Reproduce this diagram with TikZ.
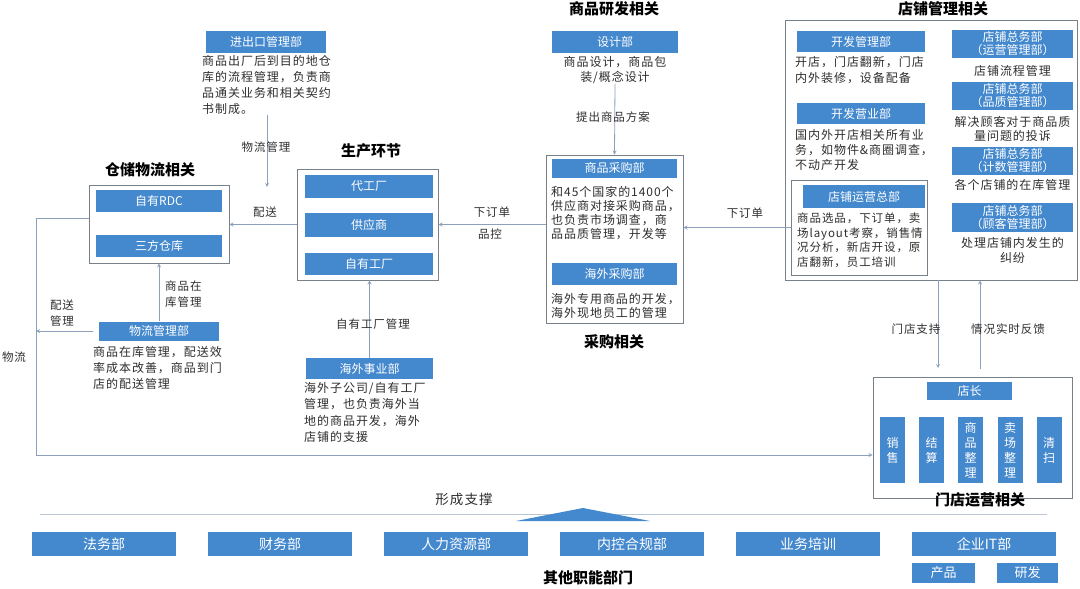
\documentclass[tikz,border=0pt]{standalone}
\usepackage{fontspec}
\setmainfont{Noto Sans CJK SC}
\newfontfamily\notefont[LetterSpace=8]{Noto Sans CJK SC}
\usetikzlibrary{positioning}
\definecolor{boxblue}{RGB}{68,136,206}
\definecolor{linegray}{RGB}{140,160,185}
\definecolor{framegray}{RGB}{120,128,138}
\definecolor{txtgray}{RGB}{45,45,45}
\begin{document}
\begin{tikzpicture}[x=1pt,y=-1pt,
  blk/.style={fill=boxblue,text=white,font=\fontsize{12}{15}\selectfont,inner sep=0pt,align=center},
  grp/.style={draw=framegray,line width=0.9pt,inner sep=0pt},
  note/.style={text=txtgray,font=\notefont\fontsize{12}{15}\selectfont,inner sep=0pt,align=left},
  ttl/.style={font=\fontsize{15}{18}\selectfont\bfseries},
  lbl/.style={text=txtgray,font=\notefont\fontsize{11.5}{16}\selectfont,inner sep=1pt,align=left},
  lnk/.style={draw=linegray,line width=0.8pt,-stealth}]
\useasboundingbox (0,0) rectangle (1080,589);

% group frames
\node[grp,minimum width=140,minimum height=78] (cang) at (159,224) {};
\node[grp,minimum width=141,minimum height=111] (sheng) at (367.5,224.5) {};
\node[grp,minimum width=137,minimum height=168] (cai) at (614.5,239) {};
\node[grp,minimum width=292,minimum height=260] (dian) at (931,150) {};
\node[grp,minimum width=136,minimum height=95] (yunying) at (859,227.5) {};
\node[grp,minimum width=199,minimum height=121] (men) at (972.5,437.5) {};

% titles
\node[ttl] (tCang) at (150,170) {仓储物流相关};
\node[ttl] (tSheng) at (371,151) {生产环节};
\node[ttl] (tYan) at (614,9) {商品研发相关};
\node[ttl] (tCai) at (614,342) {采购相关};
\node[ttl] (tDian) at (943,9) {店铺管理相关};
\node[ttl] (tMen) at (980,500) {门店运营相关};
\node[ttl] (tQi) at (588,578) {其他职能部门};

% warehouse / logistics
\node[blk,minimum width=120,minimum height=22] (jck) at (266,42) {进出口管理部};
\node[note,anchor=north west,font=\notefont\fontsize{12}{16}\selectfont] (jckT) at (202,55)
  {商品出厂后到目的地仓\\库的流程管理，负责商\\品通关业务和相关契约\\书制成。};
\node[blk,minimum width=126,minimum height=22] (rdc) at (159,201) {自有RDC};
\node[blk,minimum width=126,minimum height=22] (sanfang) at (159,246) {三方仓库};
\node[blk,minimum width=120,minimum height=19] (wlgl) at (159,331) {物流管理部};
\node[note,anchor=north west,font=\notefont\fontsize{12}{16}\selectfont] (wlglT) at (93,346)
  {商品在库管理，配送效\\率成本改善，商品到门\\店的配送管理};

% production
\node[blk,minimum width=128,minimum height=23] (daigong) at (369,186) {代工厂};
\node[blk,minimum width=128,minimum height=24] (gys) at (369,225) {供应商};
\node[blk,minimum width=128,minimum height=22] (zygc) at (369,264) {自有工厂};
\node[blk,minimum width=127,minimum height=21] (hwsy) at (369.5,368.5) {海外事业部};
\node[note,anchor=north west,font=\notefont\fontsize{12}{16.5}\selectfont] (hwsyT) at (304,382)
  {海外子公司/自有工厂\\管理，也负责海外当\\地的商品开发，海外\\店铺的支援};

% design and purchasing
\node[blk,minimum width=126,minimum height=22] (sheji) at (615,42) {设计部};
\node[note,anchor=north,align=center] (shejiT) at (615,56) {商品设计，商品包\\装/概念设计};
\node[blk,minimum width=125,minimum height=19] (spcg) at (614.5,168) {商品采购部};
\node[note,anchor=north west,font=\notefont\fontsize{12}{14}\selectfont] (spcgT) at (551,186)
  {和45个国家的1400个\\供应商对接采购商品，\\也负责市场调查，商\\品品质管理，开发等};
\node[blk,minimum width=125,minimum height=22] (hwcg) at (614.5,274) {海外采购部};
\node[note,anchor=north west,font=\notefont\fontsize{12}{14}\selectfont] (hwcgT) at (551,293)
  {海外专用商品的开发，\\海外现地员工的管理};

% store management
\node[blk,minimum width=128,minimum height=21] (kfgl) at (861,41.5) {开发管理部};
\node[note,anchor=north west,font=\notefont\fontsize{12}{16}\selectfont] (kfglT) at (795,56)
  {开店，门店翻新，门店\\内外装修，设备配备};
\node[blk,minimum width=128,minimum height=21] (kfyy) at (861,113.5) {开发营业部};
\node[note,anchor=north west] (kfyyT) at (795,129)
  {国内外开店相关所有业\\务，如物件\&商圈调查，\\不动产开发};
\node[blk,minimum width=122,minimum height=23] (yyzb) at (864,196.5) {店铺运营总部};
\node[note,anchor=north west,font=\notefont\fontsize{11.5}{14.5}\selectfont] (yyzbT) at (797,213)
  {商品选品，下订单，卖\\场layout考察，销售情\\况分析，新店开设，原\\店翻新，员工培训};
\node[blk,minimum width=121,minimum height=28,font=\fontsize{12}{13}\selectfont] (zw1) at (1012.5,44) {店铺总务部\\（运营管理部）};
\node[note,align=center] (zw1T) at (1012.5,71) {店铺流程管理};
\node[blk,minimum width=121,minimum height=28,font=\fontsize{12}{13}\selectfont] (zw2) at (1012.5,96) {店铺总务部\\（品质管理部）};
\node[note,align=center,font=\notefont\fontsize{12}{14}\selectfont] (zw2T) at (1012.5,129) {解决顾客对于商品质\\量问题的投诉};
\node[blk,minimum width=121,minimum height=28,font=\fontsize{12}{13}\selectfont] (zw3) at (1012.5,161) {店铺总务部\\（计数管理部）};
\node[note,align=center] (zw3T) at (1012.5,185) {各个店铺的在库管理};
\node[blk,minimum width=121,minimum height=29,font=\fontsize{12}{13}\selectfont] (zw4) at (1012.5,217.5) {店铺总务部\\（顾客管理部）};
\node[note,align=center] (zw4T) at (1012.5,250.5) {处理店铺内发生的\\纠纷};

% store operation
\node[blk,minimum width=85,minimum height=18] (dz) at (969.5,391) {店长};
\node[blk,minimum width=25,minimum height=66] (xs) at (892.5,450) {销\\售};
\node[blk,minimum width=25,minimum height=66] (js) at (931.5,450) {结\\算};
\node[blk,minimum width=25,minimum height=66] (spzl) at (970.5,450) {商\\品\\整\\理};
\node[blk,minimum width=25,minimum height=66] (mczl) at (1010,450) {卖\\场\\整\\理};
\node[blk,minimum width=25,minimum height=66] (qs) at (1049,450) {清\\扫};

% support departments
\draw[draw=linegray!60,line width=1pt] (40,514) -- (1047,514);
\fill[boxblue] (516,521) -- (583,508) -- (650,521) -- cycle;
\node[lbl,font=\notefont\fontsize{13.5}{16}\selectfont] (xczc) at (464,499) {形成支撑};
\node[blk,minimum width=144,minimum height=24,font=\fontsize{14}{16}\selectfont] (fw) at (104,544) {法务部};
\node[blk,minimum width=144,minimum height=24,font=\fontsize{14}{16}\selectfont] (cw) at (280,544) {财务部};
\node[blk,minimum width=144,minimum height=24,font=\fontsize{14}{16}\selectfont] (rl) at (456,544) {人力资源部};
\node[blk,minimum width=144,minimum height=24,font=\fontsize{14}{16}\selectfont] (nk) at (632,544) {内控合规部};
\node[blk,minimum width=144,minimum height=24,font=\fontsize{14}{16}\selectfont] (ywpx) at (808,544) {业务培训};
\node[blk,minimum width=144,minimum height=24,font=\fontsize{14}{16}\selectfont] (it) at (984,544) {企业IT部};
\node[blk,minimum width=63,minimum height=20,font=\fontsize{13}{15}\selectfont] (cp) at (943.5,572.5) {产品};
\node[blk,minimum width=61,minimum height=20,font=\fontsize{13}{15}\selectfont] (yf) at (1027.5,572.5) {研发};

% connectors
\coordinate (wlEnd) at (267,187);
\coordinate (wlTop) at (36,218);
\coordinate (wlBot) at (36,455);
\coordinate (zcEnd) at (938,368);
\coordinate (fkStart) at (980,369);
\draw[lnk] (jckT.south -| wlEnd) -- (wlEnd);
\draw[lnk] (sheng.west) -- (sheng.west -| cang.east);
\draw[lnk] (cai.west |- sheng.east) -- (sheng.east);
\draw[lnk] (yunying.west) -- (yunying.west -| cai.east);
\draw[lnk] (shejiT.south) -- (cai.north);
\draw[lnk] (hwsy.north) -- (hwsy.north |- sheng.south);
\draw[lnk] (wlgl.north) -- (wlgl.north |- cang.south);
\draw[lnk] (wlglT.west |- wlgl.west) -- (wlgl.west -| wlTop);
\draw[lnk] (cang.west |- wlTop) -- (wlTop) -- (wlBot) -- (wlBot -| men.west);
\draw[lnk] (dian.south -| zcEnd) -- (zcEnd);
\draw[lnk] (fkStart) -- (fkStart |- dian.south);

% connector labels
\node[lbl] (lWlgl) at (266,147) {物流管理};
\node[lbl] (lPs) at (265,212) {配送};
\node[lbl] (lXdd1) at (492,212) {下订单};
\node[lbl] (lPk) at (490,234) {品控};
\node[lbl] (lTc) at (613,117) {提出商品方案};
\node[lbl] (lXdd2) at (745,213) {下订单};
\node[lbl] (lZc) at (916,329) {门店支持};
\node[lbl] (lFk) at (1008,329) {情况实时反馈};
\node[lbl,anchor=west] (lZk) at (164,294) {商品在\\库管理};
\node[lbl] (lPsgl) at (62,313) {配送\\管理};
\node[lbl] (lZygl) at (373,324) {自有工厂管理};
\node[lbl] (lWl) at (14,357) {物流};
\end{tikzpicture}
\end{document}
